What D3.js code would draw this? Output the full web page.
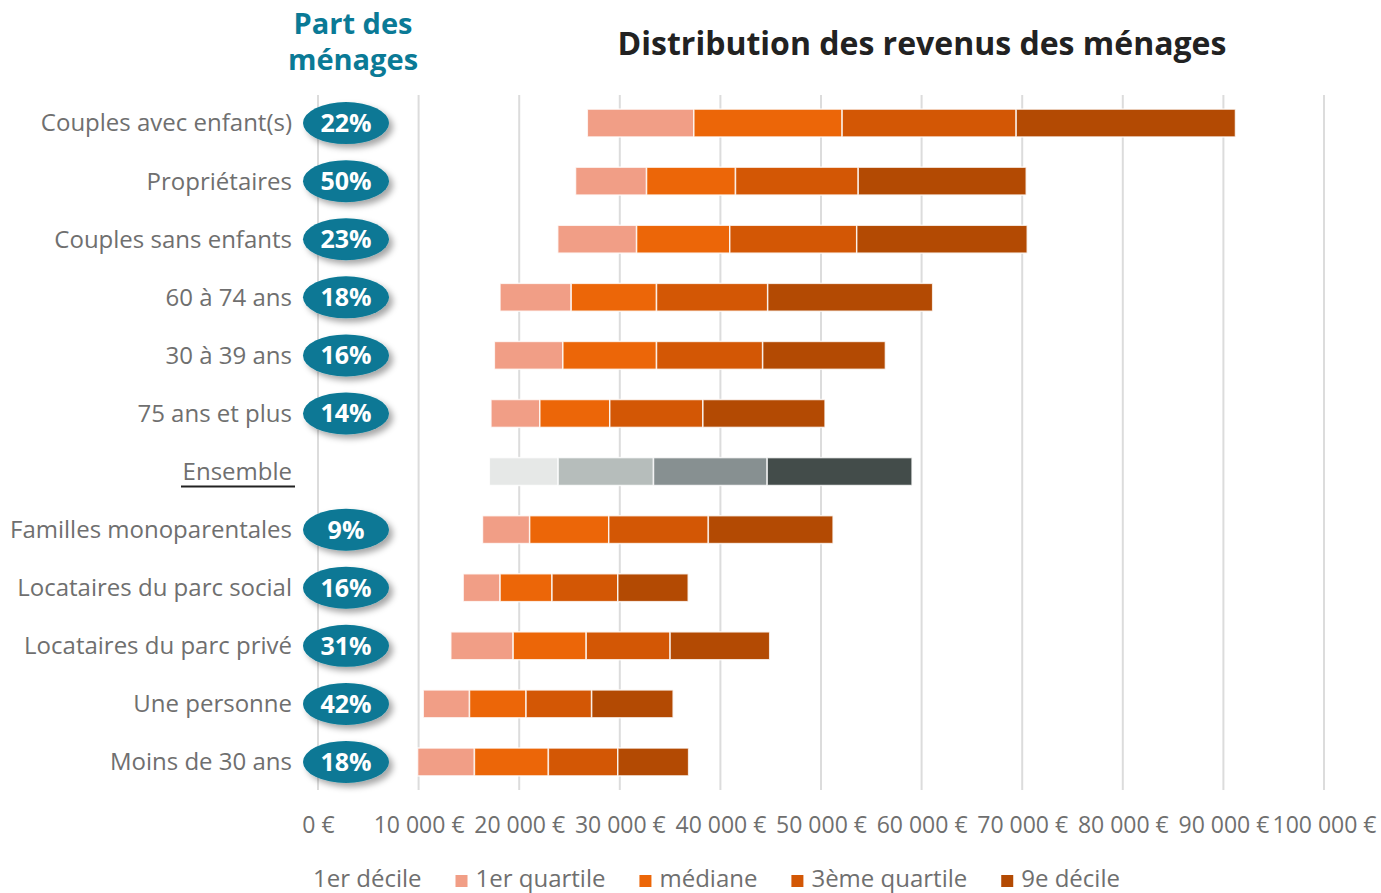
<!DOCTYPE html>
<html><head><meta charset="utf-8">
<script src="https://cdn.jsdelivr.net/npm/d3@7/dist/d3.min.js"></script>
<style>
html,body{margin:0;padding:0;background:#fff;}
svg{display:block;font-family:"Open Sans",sans-serif;}
</style></head>
<body>
<svg id="chart" width="1381" height="893"></svg>
<script>
const categories = ["Couples avec enfant(s)","Propriétaires","Couples sans enfants","60 à 74 ans","30 à 39 ans","75 ans et plus","Ensemble","Familles monoparentales","Locataires du parc social","Locataires du parc privé","Une personne","Moins de 30 ans"];
const shares = ["22%","50%","23%","18%","16%","14%",null,"9%","16%","31%","42%","18%"];
const decile1  = [26770,25600,23830,18090,17530,17190,17030,16350,14430,13200,10460,9900];
const quartile1= [37360,32660,31670,25170,24340,22050,23870,21040,18100,19400,15060,15550];
const mediane  = [52100,41500,40930,33650,33650,29000,33350,28900,23260,26660,20680,22900];
const quartile3= [69400,53700,53550,44700,44200,38260,44650,38800,29800,35000,27200,29800];
const decile9  = [91200,70400,70500,61100,56400,50400,59050,51200,36800,44900,35300,36840];
const xTicks = [0,10000,20000,30000,40000,50000,60000,70000,80000,90000,100000];
const seriesNames = ["1er décile","1er quartile","médiane","3ème quartile","9e décile"];
const seriesColors = ["#ffffff","#f19e86","#ec6608","#d35705","#b34a03"];
const ensembleColors = ["#ffffff","#e6e8e7","#b6bdbb","#879091","#434c4a"];

const svg = d3.select("#chart");
const x = d3.scaleLinear().domain([0,100000]).range([318,1324]);
const y = d3.scaleBand().domain(categories).range([94,791]).paddingInner(0.52).paddingOuter(0.26);

const defs = svg.append("defs");
const f = defs.append("filter").attr("id","sh").attr("x","-30%").attr("y","-30%").attr("width","170%").attr("height","180%");
f.append("feDropShadow").attr("dx",4).attr("dy",4).attr("stdDeviation",3).attr("flood-color","#000").attr("flood-opacity",0.35);

// gridlines
svg.append("g").selectAll("line").data(xTicks).join("line")
  .attr("x1",d=>x(d)).attr("x2",d=>x(d)).attr("y1",95).attr("y2",790)
  .attr("stroke","#dcdcdc").attr("stroke-width",2);

// bars
const rows = categories.map((c,i)=>({c,i,vals:[0,decile1[i],quartile1[i],mediane[i],quartile3[i],decile9[i]]}));
const g = svg.append("g");
rows.forEach(r=>{
  const cols = r.c==="Ensemble"?ensembleColors:seriesColors;
  for(let s=1;s<5;s++){
    g.append("rect")
      .attr("x",x(r.vals[s]))
      .attr("width",x(r.vals[s+1])-x(r.vals[s]))
      .attr("y",y(r.c)).attr("height",y.bandwidth())
      .attr("fill",cols[s]).attr("stroke","#fff").attr("stroke-opacity",0.8).attr("stroke-width",1.5);
  }
});

// category labels
svg.append("g").selectAll("text").data(categories).join("text")
  .attr("x",292).attr("y",d=>y(d)+y.bandwidth()/2).attr("dy","0.35em")
  .attr("text-anchor","end").attr("fill","#6f6f6f").style("font-size","24px")
  .text(d=>d);
// underline Ensemble
svg.append("line").attr("x1",181).attr("x2",295)
  .attr("y1",y("Ensemble")+y.bandwidth()/2+15).attr("y2",y("Ensemble")+y.bandwidth()/2+15)
  .attr("stroke","#222").attr("stroke-width",2);

// badges
const bd = svg.append("g").selectAll("g").data(categories.map((c,i)=>({c,s:shares[i]})).filter(d=>d.s)).join("g")
  .attr("transform",d=>`translate(346,${y(d.c)+y.bandwidth()/2})`);
bd.append("ellipse").attr("rx",43).attr("ry",21).attr("fill","#087895").attr("filter","url(#sh)");
bd.append("text").attr("text-anchor","middle").attr("dy","0.36em").attr("fill","#fff")
  .style("font-size","25px").style("font-weight","700").text(d=>d.s);

// headers
const hd = svg.append("text").attr("text-anchor","middle").attr("fill","#0a7a96").style("font-size","29px").style("font-weight","700");
hd.append("tspan").attr("x",353).attr("y",34).text("Part des");
hd.append("tspan").attr("x",353).attr("y",70).text("ménages");
svg.append("text").attr("x",922).attr("y",55).attr("text-anchor","middle").attr("fill","#222")
  .style("font-size","32px").style("font-weight","700").text("Distribution des revenus des ménages");

// x axis
const fmt = d => (d===0?"0":d3.format(",")(d).replace(/,/g," ")) + " €";
const ax = svg.append("g").attr("transform","translate(0,817)")
  .call(d3.axisBottom(x).tickValues(xTicks).tickFormat(fmt).tickSize(0));
ax.select(".domain").remove();
ax.selectAll("text").attr("y",0).attr("dy","0.71em").attr("fill","#6f6f6f")
  .style("font-size","23px").style("font-family","'Open Sans',sans-serif");

// legend
const lg = svg.append("g");
let lx = 293;
seriesNames.forEach((n,i)=>{
  lg.append("rect").attr("x",lx).attr("y",875).attr("width",12).attr("height",12).attr("fill",seriesColors[i]);
  const t = lg.append("text").attr("x",lx+20).attr("y",887).attr("fill","#6f6f6f").style("font-size","24px").text(n);
  lx = lx + 20 + t.node().getComputedTextLength() + 34;
});
</script>
</body></html>
